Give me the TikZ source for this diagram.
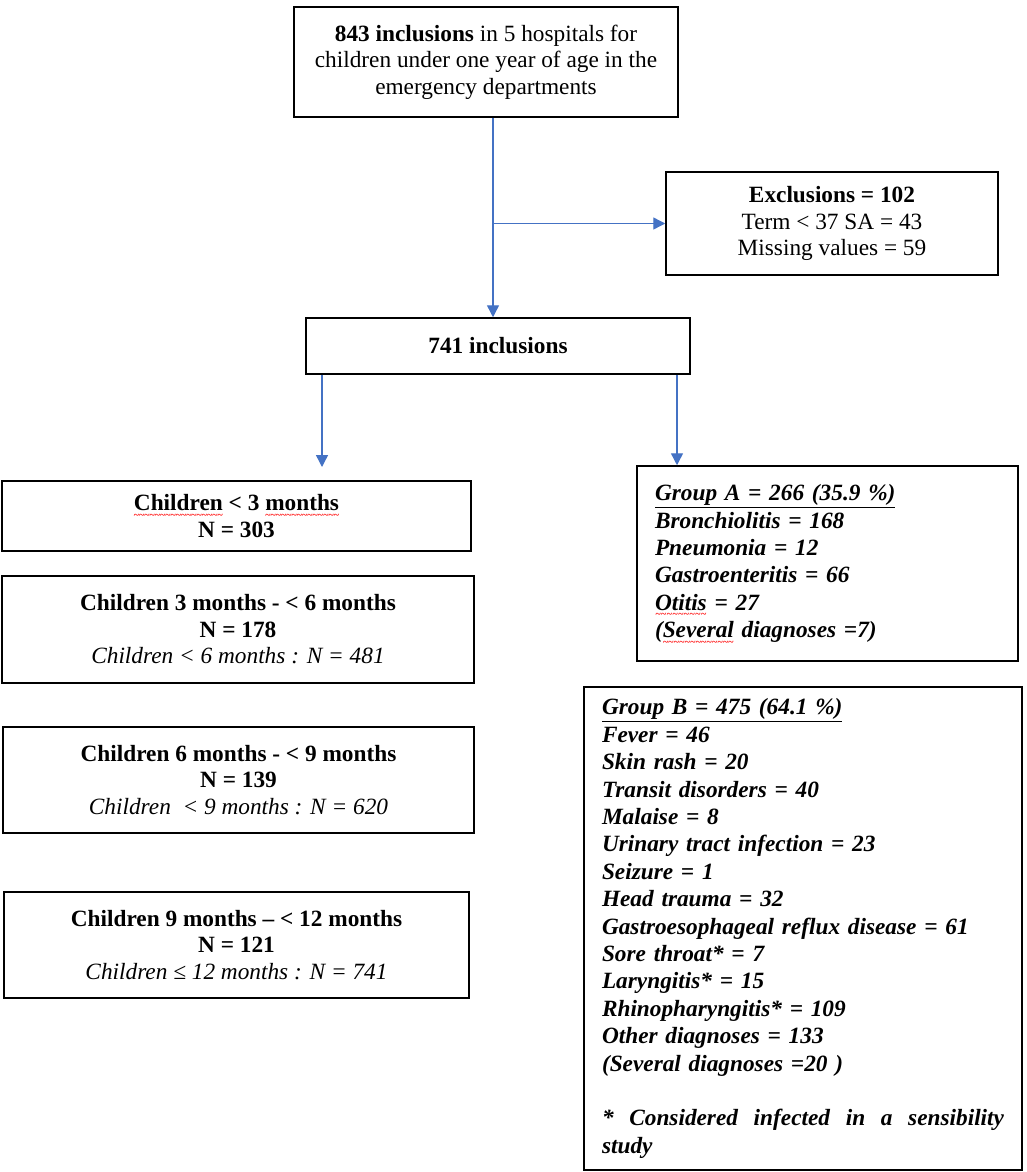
\documentclass[tikz,border=0pt]{standalone}
\usepackage{fontspec}
\setmainfont{Liberation Serif}
\usetikzlibrary{arrows.meta, positioning}

\definecolor{flowblue}{HTML}{4472C4}
% red spell-check wave under a word
\newcommand\redwave[1]{\leavevmode\setbox0\hbox{#1}\rlap{\raisebox{-7.5pt}[0pt][0pt]{\hbox to \wd0{\color{red}\fontsize{10}{10}\selectfont\bfseries\upshape\xleaders\hbox{\textasciitilde}\hfill}}}#1}

\begin{document}
\begin{tikzpicture}[x=1pt, y=-1pt,
  box/.style={draw, line width=1.5pt, rectangle, align=center, inner sep=0pt, font={\fontsize{23.3}{26.5}\selectfont}},
  listbox/.style={draw, line width=1.5pt, rectangle, align=left, inner xsep=18pt, inner ysep=0pt, font={\fontsize{23.3}{27.4}\selectfont\bfseries\itshape}},
  link/.style={flowblue, line width=1.4pt},
  flow/.style={link, -{Triangle[length=12pt,width=12pt]}}]
\useasboundingbox (0,0) rectangle (1026,1172);

% Top part
\node[box, minimum width=384pt, minimum height=110pt] (top) at (486,62) {\textbf{843 inclusions} in 5 hospitals for\\children under one year of age in the\\emergency departments};
\node[box, minimum width=332pt, minimum height=103pt] (excl) at (832,223.5) {\textbf{Exclusions = 102}\\Term < 37 SA = 43\\Missing values = 59};
\node[box, minimum width=384pt, minimum height=56pt] (incl) at (498,346) {\textbf{741 inclusions}};

% Age classes
\node[box, minimum width=469pt, minimum height=70pt] (age3) at (236.5,516) {\textbf{\redwave{Children} < 3 \redwave{months}}\\\textbf{N = 303}};
\node[box, minimum width=472pt, minimum height=107pt] (age6) at (238,629.5) {\textbf{Children 3 months - < 6 months}\\\textbf{N = 178}\\\textit{Children < 6 months : N = 481}};
\node[box, minimum width=471pt, minimum height=106pt] (age9) at (238.5,780) {\textbf{Children 6 months - < 9 months}\\\textbf{N = 139}\\\textit{Children~ < 9 months : N = 620}};
\node[box, minimum width=465pt, minimum height=106pt] (age12) at (236.5,945) {\textbf{Children 9 months -- < 12 months}\\\textbf{N = 121}\\\textit{Children ≤ 12 months : N = 741}};

% Diagnosis groups
\node[listbox, text width=345pt, minimum height=195pt] (grpA) at (827.5,563.5) {\underline{Group A = 266 (35.9 \%)}\\Bronchiolitis = 168\\Pneumonia = 12\\Gastroenteritis = 66\\\redwave{Otitis} = 27\\(\redwave{Several} diagnoses =7)};
\node[listbox, text width=402pt, minimum height=483pt] (grpB) at (803,928.5) {\underline{Group B = 475 (64.1 \%)}\\Fever = 46\\Skin rash = 20\\Transit disorders = 40\\Malaise = 8\\Urinary tract infection = 23\\Seizure = 1\\Head trauma = 32\\Gastroesophageal reflux disease = 61\\Sore throat* = 7\\Laryngitis* = 15\\Rhinopharyngitis* = 109\\Other diagnoses = 133\\(Several diagnoses =20 )\\[27.4pt]*\hfill Considered\hfill infected\hfill in\hfill a\hfill sensibility\\study};

% Arrows
\coordinate (split) at (493,223.5);
\coordinate (leftend) at (322,467);
\coordinate (rightx) at (677,0);
\draw[link] (top.south -| split) -- (split);
\draw[flow] (split) -- (excl.west);
\draw[flow] (split) -- (split |- incl.north);
\draw[flow] (incl.south -| leftend) -- (leftend);
\draw[flow] (incl.south -| rightx) -- (grpA.north -| rightx);
\end{tikzpicture}
\end{document}
